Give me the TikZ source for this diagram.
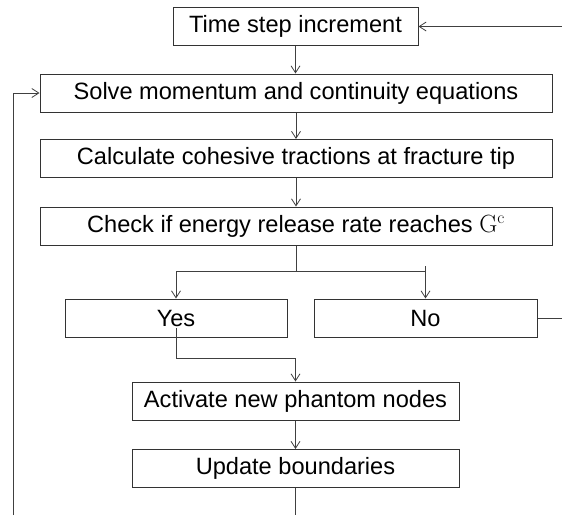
\documentclass[tikz,border=0pt]{standalone}
\usepackage{amsmath}
\usepackage[no-math]{fontspec}
\setmainfont{Liberation Sans}
\usepackage{tikz}
\usetikzlibrary{arrows.meta,positioning}

\tikzset{
  stepbox/.style={draw=black!80, line width=1pt, minimum height=38pt, inner sep=0pt,
    font=\fontsize{23.6}{27}\selectfont},
  flow/.style={draw=black!75, line width=0.8pt, -{Straight Barb[length=7pt,width=9pt]}},
  link/.style={draw=black!75, line width=0.8pt}
}

\begin{document}
\begin{tikzpicture}[x=1pt,y=-1pt]
      \useasboundingbox (0,0) rectangle (562,515);
      \node[stepbox, minimum width=245pt] (time) at (295.5,26.5) {Time step increment};
      \node[stepbox, minimum width=512pt] (solve) at (296,93) {Solve momentum and continuity equations};
      \node[stepbox, minimum width=512pt] (coh) at (296,158.5) {Calculate cohesive tractions at fracture tip};
      \node[stepbox, minimum width=512pt] (check) at (296,226) {Check if energy release rate reaches $\mathrm{G}^{\mathrm{c}}$};
      \node[stepbox, minimum width=222pt] (yes) at (176,318) {Yes};
      \node[stepbox, minimum width=223pt] (no) at (425.5,318) {No};
      \node[stepbox, minimum width=327pt] (act) at (295.5,401) {Activate new phantom nodes};
      \node[stepbox, minimum width=327pt] (upd) at (295.5,468.5) {Update boundaries};
      % free ends at the border
      \coordinate (rin) at (562,26.5);
      \coordinate (rout) at (562,318);
      \coordinate (lbot) at (13,515);
      \coordinate (bot) at (295.5,515);
      \coordinate (fork) at (296,271);
      \coordinate (join) at (295.5,358);
      % main chain
      \draw[flow] (rin) -- (time.east);
      \draw[flow] (time.south) -- (time.south |- solve.north);
      \draw[flow] (solve) -- (coh);
      \draw[flow] (coh) -- (check);
      \draw[link] (check.south) -- (fork);
      \draw[flow] (fork) -| (yes.north);
      \draw[link] (fork) -- (fork -| no.north);
      \draw[flow] ([yshift=5pt]fork -| no.north) -- (no.north);
      \draw[link] (no.east) -- (rout);
      \draw[flow] ([yshift=-10pt]yes.center) |- (join) -- (act.north);
      \draw[flow] (act) -- (upd);
      \draw[link] (upd.south) -- (bot);
      % loop back
      \draw[flow] (lbot) |- (solve.west);
    \end{tikzpicture}
\end{document}
